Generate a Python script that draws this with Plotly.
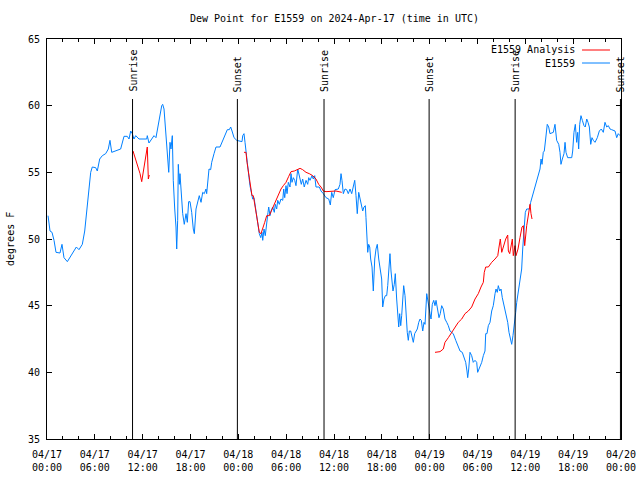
import pandas as pd
import plotly.graph_objects as go

START = pd.Timestamp("2024-04-17 00:00")

# Observed dew point (hours since 04/17 00:00 UTC, degrees F)
obs_hours = [0.13, 0.38, 0.63, 0.88, 1.13, 1.63, 1.88, 2.13, 2.55, 3.17, 3.68, 4.01, 4.43, 4.73, 4.98,
             5.27, 5.48, 5.68, 6.11, 6.31, 6.61, 6.94, 7.36, 7.69, 7.90, 8.12, 8.49, 9.24, 9.66, 10.07,
             10.29, 10.50, 10.70, 10.91, 11.13, 11.54, 12.51, 12.58, 12.79, 13.13, 13.42, 13.67, 13.84,
             14.09, 14.39, 14.51, 14.68, 14.80, 15.01, 15.14, 15.27, 15.43, 15.55, 15.72, 15.84, 16.02,
             16.18, 16.27, 16.39, 16.47, 16.60, 16.68, 16.85, 17.02, 17.22, 17.44, 17.60, 17.77, 17.94,
             18.15, 18.35, 18.48, 18.69, 18.85, 19.10, 19.32, 19.53, 19.73, 19.94, 20.03, 20.16, 20.32,
             20.53, 20.66, 20.95, 21.20, 21.70, 22.04, 22.33, 22.62, 22.87, 23.04, 23.21, 23.46, 23.80,
             24.46, 24.55, 24.71, 24.84, 24.96, 25.09, 25.21, 25.34, 25.46, 25.63, 25.80, 25.97, 26.13,
             26.30, 26.47, 26.63, 26.81, 26.97, 27.06, 27.22, 27.38, 27.56, 27.72, 27.81, 27.97, 28.10,
             28.31, 28.51, 28.64, 28.81, 28.94, 29.14, 29.35, 29.57, 29.69, 29.82, 29.98, 30.11, 30.27,
             30.48, 30.61, 30.73, 30.90, 31.07, 31.23, 31.45, 31.57, 31.74, 31.90, 32.07, 32.27, 32.49,
             32.70, 32.83, 32.99, 33.24, 33.40, 33.58, 33.74, 34.16, 34.37, 34.66, 35.00, 35.34, 35.54,
             35.71, 35.91, 36.13, 36.54, 36.75, 36.88, 37.00, 37.17, 37.38, 37.59, 37.79, 38.01, 38.22,
             38.42, 38.60, 38.76, 38.92, 39.10, 39.26, 39.42, 39.60, 39.76, 39.93, 40.01, 40.10, 40.23,
             40.35, 40.48, 40.60, 40.77, 40.93, 41.11, 41.27, 41.43, 41.61, 41.77, 41.98, 42.11, 42.27,
             42.44, 42.61, 42.74, 42.86, 43.02, 43.15, 43.28, 43.40, 43.56, 43.69, 43.86, 43.99, 44.12,
             44.24, 44.37, 44.49, 44.62, 44.74, 44.91, 45.03, 45.19, 45.32, 45.45, 45.62, 45.78, 45.95,
             46.12, 46.29, 46.45, 46.63, 46.79, 46.95, 47.13, 47.29, 47.42, 47.63, 47.83, 48.04, 48.17,
             48.33, 48.51, 48.67, 48.80, 49.01, 49.17, 49.33, 49.51, 49.71, 49.92, 50.14, 50.34, 50.55,
             50.76, 50.96, 51.27, 51.52, 51.81, 52.09, 52.34, 52.52, 52.68, 52.77, 52.90, 53.06, 53.27,
             53.47, 53.69, 53.90, 54.02, 54.19, 54.35, 54.53, 54.73, 54.94, 55.03, 55.19, 55.36, 55.57,
             55.78, 55.98, 56.20, 56.32, 56.48, 56.61, 56.79, 56.95, 57.11, 57.29, 57.45, 57.61, 57.79,
             57.95, 58.11, 58.29, 58.45, 58.62, 58.79, 58.92, 59.12, 59.33, 59.54, 59.67, 59.83, 60.00,
             60.17, 60.50, 60.67, 60.84, 61.00, 61.22, 61.43, 61.63, 61.84, 61.97, 62.09, 62.25, 62.38,
             62.55, 62.75, 62.93, 63.09, 63.51, 63.72, 63.93, 64.19, 64.35, 64.47, 64.64, 64.85, 64.98,
             65.10, 65.31, 65.82, 65.94, 66.10, 66.27, 66.44, 66.57, 66.69, 66.82, 66.98, 67.15, 67.36,
             67.52, 67.70, 67.86, 68.03, 68.20, 68.36, 68.53, 68.74, 69.03, 69.28, 69.53, 69.78, 69.99,
             70.21, 70.41, 70.62, 70.83, 71.25, 71.46, 71.66, 71.87]
obs_values = [51.75, 50.6, 50.5, 49.9, 49.0, 48.95, 49.6, 48.6, 48.3, 48.9, 49.4, 49.2, 49.6, 50.6, 52.0,
              53.5, 55.0, 55.4, 55.35, 55.1, 56.0, 56.25, 56.4, 56.75, 57.4, 56.5, 56.6, 56.75, 57.7, 57.7,
              57.5, 58.1, 57.9, 57.5, 57.75, 57.5, 57.5, 57.75, 57.2, 57.5, 57.75, 57.6, 58.1,
              59.0, 60.0, 60.1, 59.75, 58.6, 56.9, 55.9, 55.0, 57.25, 56.75, 57.75, 54.4, 52.25,
              50.9, 49.25, 51.4, 55.6, 54.1, 54.9, 53.1, 51.9, 51.1, 51.9, 51.25, 52.8, 52.8,
              52.0, 50.75, 50.4, 52.25, 52.75, 53.25, 52.75, 53.5, 53.4, 53.75, 53.4, 54.6, 55.25,
              55.2, 55.75, 56.4, 56.9, 56.9, 57.4, 57.9, 58.2, 58.2, 58.4, 58.1, 57.6, 57.4,
              57.3, 57.75, 57.9, 57.25, 56.5, 55.75, 55.0, 54.6, 54.0, 53.6, 53.0, 53.1, 52.5,
              51.75, 51.0, 50.4, 50.1, 50.5, 49.9, 50.75, 50.25, 51.5, 52.0, 52.4, 51.75, 52.1,
              52.4, 52.0, 52.6, 52.25, 52.9, 52.6, 53.0, 52.9, 53.75, 53.1, 54.0, 53.4, 54.25,
              53.9, 54.9, 54.25, 54.6, 54.4, 54.0, 55.25, 54.9, 54.4, 54.1, 54.5, 53.9, 54.4,
              54.1, 54.6, 54.4, 54.75, 54.5, 54.75, 53.9, 53.9, 53.6, 53.4, 53.1, 53.0, 52.55,
              53.5, 53.1, 53.7, 53.75, 54.1, 54.9, 54.4, 53.4, 53.75, 53.7, 53.4, 53.75, 53.4,
              53.9, 54.4, 53.25, 51.9, 53.5, 53.0, 52.6, 52.1, 52.4, 52.5, 51.6, 49.9, 49.0,
              49.6, 49.4, 48.5, 47.9, 46.1, 48.5, 49.25, 49.6, 48.5, 47.75, 47.0, 44.9, 45.5,
              45.75, 45.75, 46.5, 48.0, 48.9, 47.6, 46.75, 46.1, 46.6, 47.4, 45.5, 44.25, 43.4,
              44.4, 43.5, 44.25, 45.75, 46.5, 45.75, 44.25, 43.0, 42.4, 43.1, 43.1, 42.75, 42.25,
              42.9, 43.1, 43.25, 43.75, 44.0, 43.9, 43.1, 43.75, 43.6, 45.9, 45.0, 44.4, 44.0,
              45.1, 45.4, 45.0, 45.4, 44.5, 44.1, 44.4, 45.0, 44.75, 44.0, 43.75, 43.5, 43.1,
              43.0, 42.9, 42.4, 42.0, 41.6, 41.5, 41.1, 40.75, 40.1, 39.6, 40.25, 41.5, 41.25,
              40.75, 40.9, 40.75, 40.0, 40.25, 40.5, 40.75, 41.25, 41.6, 42.9, 42.9, 43.5, 43.75,
              44.6, 45.0, 45.9, 46.25, 46.0, 46.5, 46.1, 46.25, 45.6, 45.1, 44.6, 44.4, 43.75,
              43.0, 42.5, 42.1, 42.75, 43.5, 44.5, 45.25, 46.0, 46.8, 47.75, 49.25, 50.4, 52.0,
              52.25, 52.25, 52.75, 53.1, 53.5, 53.9, 54.25, 54.75, 55.25, 56.0, 55.6, 56.5, 56.6,
              57.5, 58.6, 58.4, 57.9, 58.0, 58.6, 57.4, 57.1, 56.5, 55.6, 56.0, 56.4, 57.25,
              56.5, 56.1, 56.1, 56.6, 58.0, 58.6, 57.25, 58.0, 56.75, 58.6, 59.25, 58.9, 58.5,
              58.4, 59.0, 58.75, 58.4, 57.1, 57.6, 57.4, 57.25, 57.6, 58.1, 58.25, 58.0, 58.75,
              58.4, 58.5, 58.25, 58.2, 58.1, 57.6, 57.9, 57.75]

# Analysis dew point, three separate runs (None splits the runs)
ana_hours = [10.79, 11.13, 11.41, 11.67, 11.88, 12.08, 12.29, 12.48, 12.58, 12.71, 12.83, None,
             24.71, 24.96, 25.09, 25.30, 25.46, 25.71, 25.88, 26.22, 26.43, 26.63, 26.84, 27.06, 27.31,
             27.56, 27.88, 28.14, 28.39, 28.73, 29.06, 29.35, 29.64, 29.98, 30.32, 30.61, 31.02, 31.45,
             31.74, 32.07, 32.49, 32.90, 33.33, 33.74, 34.08, 34.37, 34.66, 35.00, 35.62, 36.25, 36.97, None,
             48.67, 49.30, 49.71, 49.92, 50.34, 50.76, 51.18, 51.59, 52.02, 52.43, 52.85, 53.27, 53.69,
             54.10, 54.44, 54.73, 54.85, 55.03, 55.36, 55.78, 56.20, 56.54, 56.70, 56.86, 57.04, 57.29,
             57.54, 57.79, 57.87, 58.04, 58.20, 58.37, 58.49, 58.70, 58.83, 59.08, 59.33, 59.58, 59.75,
             59.92, 60.17, 60.37, 60.59, 60.71, 60.84]
ana_values = [56.6, 56.0, 55.5, 54.9, 54.3, 55.0, 55.9, 56.5, 56.9, 54.5, 54.8, None,
              56.5, 56.5, 55.75, 54.9, 54.0, 53.25, 53.25, 52.0, 51.0, 50.5, 50.4, 50.75, 51.25,
              51.75, 51.75, 52.1, 52.45, 53.0, 53.4, 53.75, 54.0, 54.25, 54.7, 55.05, 55.1, 55.25,
              55.3, 55.2, 55.0, 54.9, 54.75, 54.5, 54.1, 53.9, 53.6, 53.55, 53.6, 53.6, 53.5, None,
              41.5, 41.55, 41.75, 42.25, 42.6, 43.0, 43.4, 43.75, 44.0, 44.4, 44.6, 44.9, 45.5,
              45.9, 46.4, 46.75, 47.5, 47.9, 47.9, 48.25, 48.5, 48.75, 49.4, 50.0, 49.0, 49.5,
              50.0, 50.3, 49.1, 48.9, 49.4, 50.0, 48.75, 49.5, 48.75, 49.25, 50.1, 50.9, 51.0,
              49.5, 51.0, 51.9, 52.6, 51.9, 51.5]

# Sun events (hours since start)
sun_hours = [10.73, 23.88, 34.75, 47.93, 58.72, 71.93]
sun_labels = ["Sunrise", "Sunset", "Sunrise", "Sunset", "Sunrise", "Sunset"]

x_tick_hours = [0, 6, 12, 18, 24, 30, 36, 42, 48, 54, 60, 66, 72]
x_tick_text = ["04/17<br>00:00", "04/17<br>06:00", "04/17<br>12:00", "04/17<br>18:00",
               "04/18<br>00:00", "04/18<br>06:00", "04/18<br>12:00", "04/18<br>18:00",
               "04/19<br>00:00", "04/19<br>06:00", "04/19<br>12:00", "04/19<br>18:00",
               "04/20<br>00:00"]
x_minor_hours = [h for h in range(0, 73, 2) if h % 6 != 0]
y_ticks = [35, 40, 45, 50, 55, 60, 65]

RED = "#ff0000"
BLUE = "#0080ff"
FONT = "DejaVu Sans Mono"
TOP, BOTTOM = 39, 41  # plot margins in px
PLOT_H = 480 - TOP - BOTTOM


def to_time(hours):
    return [None if h is None else START + pd.Timedelta(hours=h) for h in hours]


fig = go.Figure()
fig.add_trace(go.Scatter(x=to_time(obs_hours), y=obs_values, mode="lines",
                         line=dict(color=BLUE, width=1), name="E1559"))
fig.add_trace(go.Scatter(x=to_time(ana_hours), y=ana_values, mode="lines",
                         line=dict(color=RED, width=1), name="E1559 Analysis",
                         connectgaps=False))

for h, lab in zip(sun_hours, sun_labels):
    t = START + pd.Timedelta(hours=h)
    fig.add_shape(type="line", x0=t, x1=t, y0=35, y1=60.5, xref="x", yref="y",
                  line=dict(color="black", width=1))
    fig.add_annotation(x=t, y=60.95, xref="x", yref="y", text=lab, textangle=-90,
                       showarrow=False, xanchor="center", yanchor="bottom",
                       font=dict(family=FONT, size=10, color="black"), borderpad=0)

# Legend drawn manually (text right-aligned, sample line on right, gnuplot style)
legend_items = [("E1559 Analysis", RED, 1 - (50 - TOP) / PLOT_H), ("E1559", BLUE, 1 - (63 - TOP) / PLOT_H)]
for text, col, yp in legend_items:
    fig.add_annotation(x=0.921, y=yp, xref="paper", yref="paper", text=text,
                       showarrow=False, xanchor="right", yanchor="middle",
                       font=dict(family=FONT, size=10, color="black"), borderpad=0)
    fig.add_shape(type="line", x0=0.9321, x1=0.9808, y0=yp, y1=yp, xref="paper", yref="paper",
                  line=dict(color=col, width=1))

fig.add_annotation(x=-0.0645, y=0.5, xref="paper", yref="paper", text="degrees F",
                   textangle=-90, showarrow=False, xanchor="center", yanchor="middle",
                   font=dict(family=FONT, size=10, color="black"))

fig.add_annotation(x=0.5, y=1 + (TOP - 19) / PLOT_H, xref="paper", yref="paper",
                   text="Dew Point for E1559 on 2024-Apr-17 (time in UTC)",
                   showarrow=False, xanchor="center", yanchor="middle",
                   font=dict(family=FONT, size=10, color="black"))

fig.update_layout(
    width=640, height=480,
    margin=dict(l=47, r=19, t=TOP, b=BOTTOM, autoexpand=False),
    paper_bgcolor="white", plot_bgcolor="white",
    showlegend=False,
    font=dict(family=FONT, size=10, color="black"),
)
fig.update_xaxes(
    range=[START, START + pd.Timedelta(hours=72)],
    tickmode="array", tickvals=to_time(x_tick_hours), ticktext=x_tick_text,
    ticks="inside", ticklen=5, tickcolor="black", tickwidth=1,
    minor=dict(tickmode="array", tickvals=to_time(x_minor_hours), ticks="inside",
               ticklen=3, tickcolor="black", tickwidth=1, showgrid=False),
    showline=True, linecolor="black", linewidth=1, mirror="allticks",
    showgrid=False, zeroline=False, automargin=False, ticklabelstandoff=6,
    tickfont=dict(family=FONT, size=10, color="black"),
)
fig.update_yaxes(
    range=[35, 65], tickvals=y_ticks,
    ticks="inside", ticklen=5, tickcolor="black", tickwidth=1,
    showline=True, linecolor="black", linewidth=1, mirror="allticks",
    showgrid=False, zeroline=False, automargin=False, ticklabelstandoff=4,
    tickfont=dict(family=FONT, size=10, color="black"),
)

fig.write_html("out.html", config={"displayModeBar": False},
               post_script="document.body.style.margin='0';")
